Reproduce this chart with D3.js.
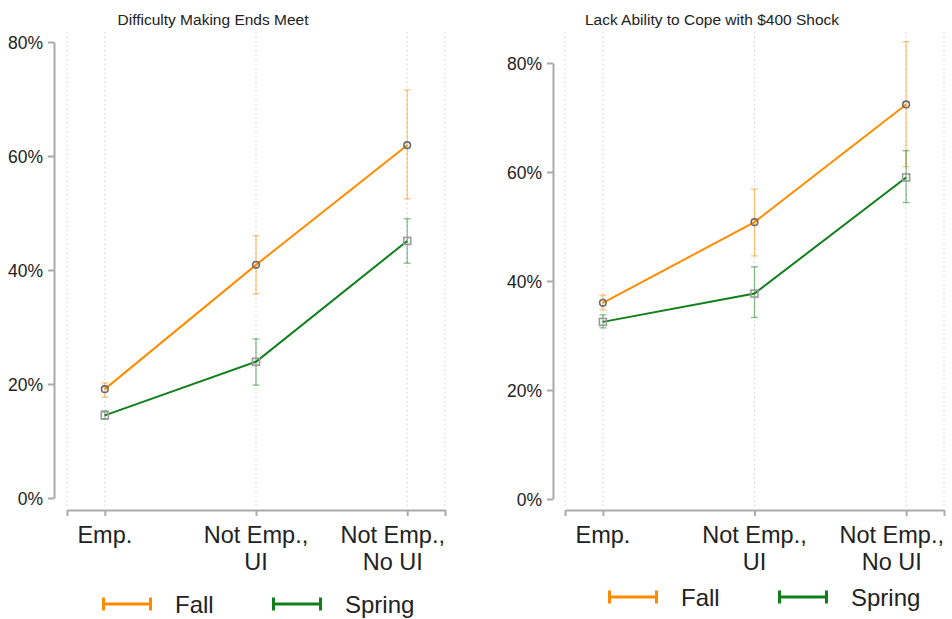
<!DOCTYPE html>
<html><head><meta charset="utf-8">
<script src="https://cdn.jsdelivr.net/npm/d3@7"></script>
<style>body{margin:0;background:#fff}svg{display:block}text{font-family:"Liberation Sans",Arial,Helvetica,sans-serif;fill:#222}</style>
</head><body>
<script>
const categories = [["Emp."], ["Not Emp.,", "UI"], ["Not Emp.,", "No UI"]];
const yTicks = [0, 20, 40, 60, 80];
const seriesNames = ["Fall", "Spring"];
const titles = ["Difficulty Making Ends Meet", "Lack Ability to Cope with $400 Shock"];
// panel 1: Difficulty Making Ends Meet
const p1Fall = [19.1, 40.9, 61.9];
const p1FallLo = [17.7, 35.8, 52.5];
const p1FallHi = [20.2, 46.0, 71.6];
const p1Spring = [14.5, 23.9, 45.1];
const p1SpringLo = [13.8, 19.8, 41.2];
const p1SpringHi = [15.3, 27.9, 49.0];
// panel 2: Lack Ability to Cope with $400 Shock
const p2Fall = [36.0, 50.8, 72.4];
const p2FallLo = [34.7, 44.6, 61.0];
const p2FallHi = [37.4, 56.9, 83.9];
const p2Spring = [32.5, 37.7, 59.0];
const p2SpringLo = [31.4, 33.3, 54.4];
const p2SpringHi = [33.8, 42.6, 63.9];

const colors = {Fall: "#ff8c00", Spring: "#0f7f1a"};
const W = 952, H = 619;
const svg = d3.select("body").append("svg").attr("width", W).attr("height", H);

const panels = [
  {title: titles[0], xr: [67, 445], yr: [498, 42], axisX: 54, titleX: 213, legendX: 102, legendY: 604,
   series: [{name: "Fall", v: p1Fall, lo: p1FallLo, hi: p1FallHi}, {name: "Spring", v: p1Spring, lo: p1SpringLo, hi: p1SpringHi}]},
  {title: titles[1], xr: [565, 944], yr: [499, 63], axisX: 553, titleX: 712, legendX: 608, legendY: 597,
   series: [{name: "Fall", v: p2Fall, lo: p2FallLo, hi: p2FallHi}, {name: "Spring", v: p2Spring, lo: p2SpringLo, hi: p2SpringHi}]}
];

panels.forEach(p => {
  const g = svg.append("g");
  const x = d3.scaleLinear().domain([0.75, 3.25]).range(p.xr);
  const y = d3.scaleLinear().domain([0, 80]).range(p.yr);
  const idx = categories.map((c, i) => i + 1);
  const gridX = [0.75].concat(idx, [3.25]);
  g.selectAll(".grid").data(gridX).enter().append("line")
    .attr("x1", d => x(d)).attr("x2", d => x(d)).attr("y1", 32).attr("y2", 506)
    .attr("stroke", "#d8d8d8").attr("stroke-width", 1.2).attr("stroke-dasharray", "1.5,3");
  g.append("text").attr("x", p.titleX).attr("y", 25).attr("text-anchor", "middle")
    .attr("font-size", 15.5).text(p.title);
  const ya = g.append("g").attr("transform", `translate(${p.axisX},0)`)
    .call(d3.axisLeft(y).tickValues(yTicks).tickFormat(d => d + "%").tickSize(6).tickPadding(5).tickSizeOuter(0));
  ya.select(".domain").attr("stroke", "#aaa").attr("stroke-width", 2);
  ya.selectAll(".tick line").attr("stroke", "#aaa").attr("stroke-width", 2);
  ya.selectAll(".tick text").attr("font-size", 17.5).attr("fill", "#222").attr("dy", "0.35em")
    .style("font-family", '"Liberation Sans",Arial,sans-serif');
  const xa = g.append("g").attr("transform", "translate(0,510)")
    .call(d3.axisBottom(x).tickValues(gridX).tickFormat("").tickSize(6).tickSizeOuter(0));
  xa.select(".domain").attr("stroke", "#aaa").attr("stroke-width", 2);
  xa.selectAll(".tick line").attr("stroke", "#aaa").attr("stroke-width", 2);
  categories.forEach((lines, i) => {
    const t = g.append("text").attr("font-size", 23.5).attr("text-anchor", "middle");
    lines.forEach((s, j) => t.append("tspan").attr("x", 0).attr("y", 543 + j * 27).text(s));
    const bb = t.node().getBBox();
    let cx = x(i + 1);
    if (cx + bb.width / 2 > p.xr[1]) cx = p.xr[1] - bb.width / 2;
    t.attr("transform", `translate(${cx},0)`);
  });
  p.series.forEach(s => {
    const col = colors[s.name];
    const eb = g.append("g").attr("stroke", col).attr("stroke-opacity", 0.5).attr("stroke-width", 1.3);
    s.v.forEach((v, i) => {
      const cx = x(i + 1);
      eb.append("line").attr("x1", cx).attr("x2", cx).attr("y1", y(s.lo[i])).attr("y2", y(s.hi[i]));
      eb.append("line").attr("x1", cx - 3.5).attr("x2", cx + 3.5).attr("y1", y(s.lo[i])).attr("y2", y(s.lo[i]));
      eb.append("line").attr("x1", cx - 3.5).attr("x2", cx + 3.5).attr("y1", y(s.hi[i])).attr("y2", y(s.hi[i]));
    });
    g.append("path").datum(s.v)
      .attr("d", d3.line().x((d, i) => x(i + 1)).y(d => y(d)))
      .attr("fill", "none").attr("stroke", col).attr("stroke-width", 2);
    s.v.forEach((v, i) => {
      if (s.name === "Fall") {
        g.append("circle").attr("cx", x(i + 1)).attr("cy", y(v)).attr("r", 3.3)
          .attr("fill", "none").attr("stroke", "#6a6a6a").attr("stroke-width", 1.6);
      } else {
        g.append("rect").attr("x", x(i + 1) - 3.5).attr("y", y(v) - 3.5).attr("width", 7).attr("height", 7)
          .attr("fill", "none").attr("stroke", "#9a9a9a").attr("stroke-width", 1.6);
      }
    });
  });
  seriesNames.forEach((name, k) => {
    const lx = p.legendX + k * 170, ly = p.legendY;
    const lg = g.append("g").attr("stroke", colors[name]).attr("stroke-width", 3);
    lg.append("line").attr("x1", lx).attr("x2", lx + 50).attr("y1", ly).attr("y2", ly);
    lg.append("line").attr("x1", lx + 1.5).attr("x2", lx + 1.5).attr("y1", ly - 6.5).attr("y2", ly + 6.5);
    lg.append("line").attr("x1", lx + 48.5).attr("x2", lx + 48.5).attr("y1", ly - 6.5).attr("y2", ly + 6.5);
    g.append("text").attr("x", lx + 73).attr("y", ly + 9).attr("font-size", 24).text(name);
  });
});
</script>
</body></html>
